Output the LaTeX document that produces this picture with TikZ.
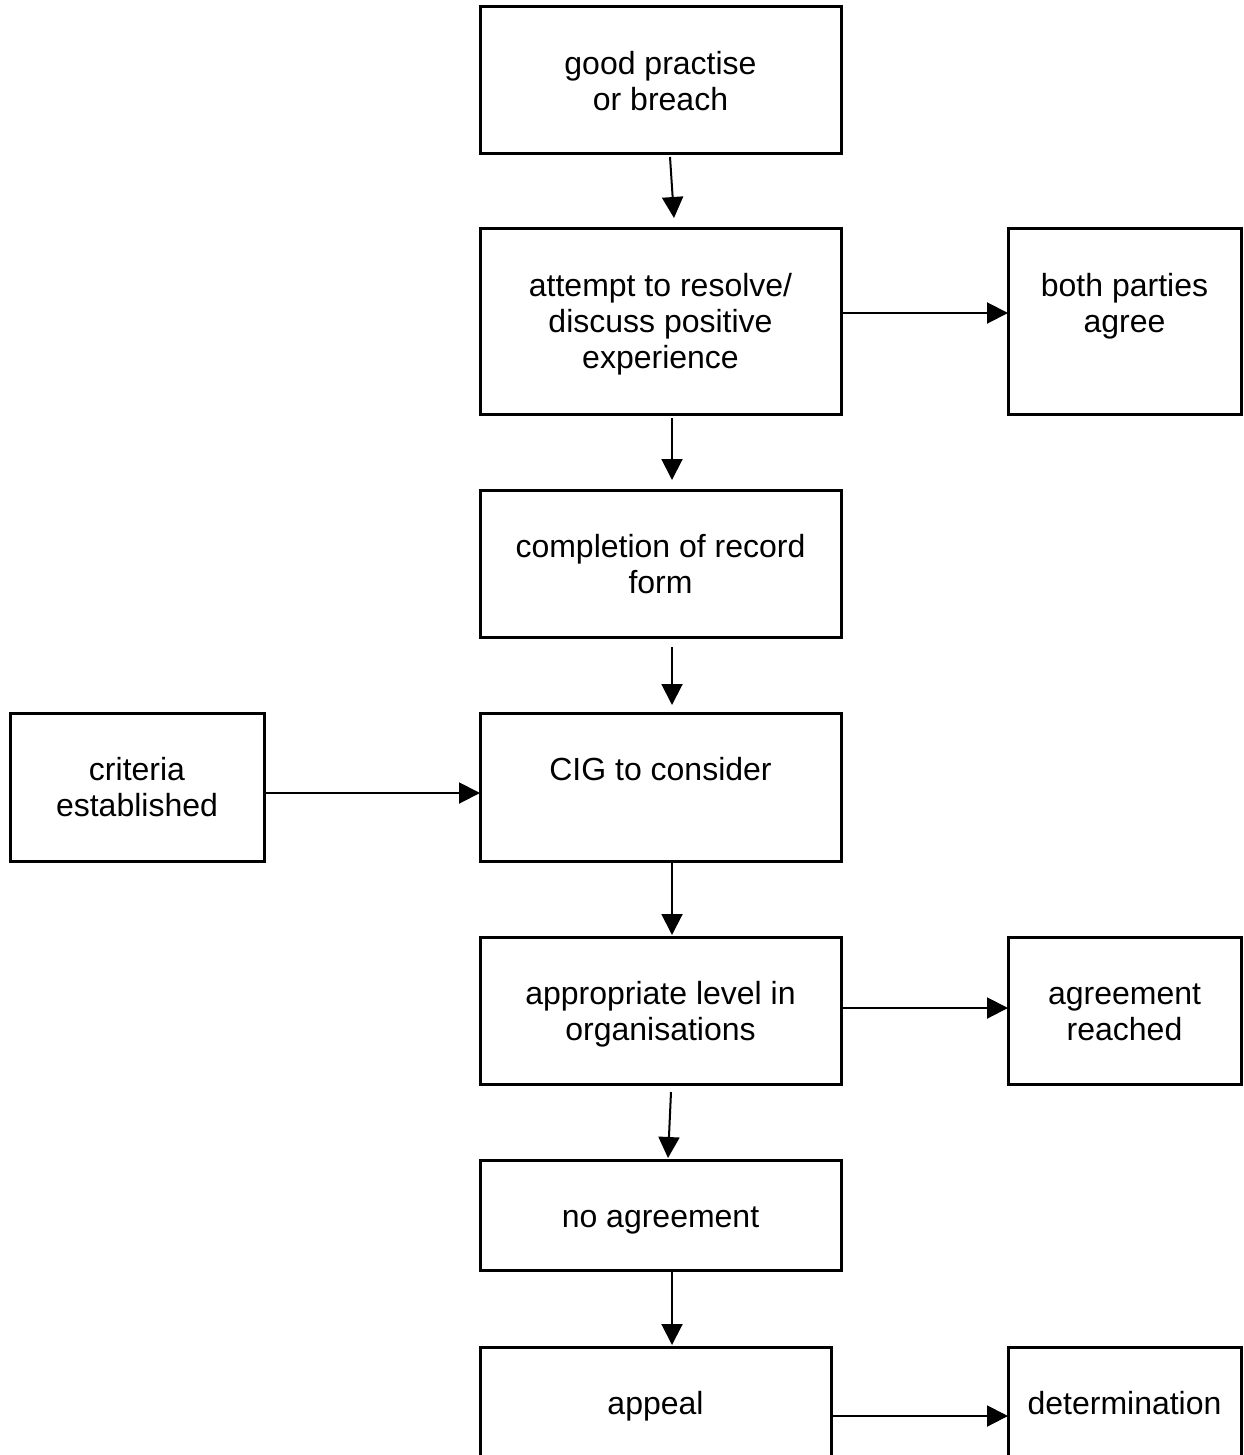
\documentclass[tikz,border=0pt]{standalone}
\usepackage{fontspec}
\setmainfont{Liberation Sans}
\usetikzlibrary{arrows.meta,calc}
\tikzset{
  box/.style  = {draw, line width=1.5pt, inner sep=0pt, outer sep=0pt, anchor=north west,
                 font=\fontsize{16pt}{18pt}\selectfont},
  flow/.style = {-{Triangle[length=10.5pt,width=10.5pt]}, line width=1pt},
}
% text sits at the top of each box
\newcommand{\boxtext}[3]{\parbox[c][\dimexpr#2pt/2\relax][t]{\dimexpr#1pt/2\relax}{\centering\vspace*{21.2pt}\strut#3}}

\begin{document}
\begin{tikzpicture}[x=0.5pt,y=-0.5pt]
  \useasboundingbox (0,0) rectangle (1243,1455);
  \foreach \name/\x/\y/\w/\h/\txt in {
      good/480/7/361/147/{good practise\\or breach},
      attempt/480/229/361/185/{attempt to resolve/\\discuss positive\\experience},
      both/1008/229/233/185/{both parties\\agree},
      record/480/490/361/147/{completion of record\\form},
      criteria/10/713/254/148/{criteria\\established},
      cig/480/713/361/148/{CIG to consider},
      level/480/937/361/147/{appropriate level in\\organisations},
      agreed/1008/937/233/147/{agreement\\reached},
      noagree/480/1160/361/110/{no agreement},
      appeal/480/1347/351/140/{appeal},
      determ/1008/1347/233/140/{determination}}{
    \node[box] (\name) at (\x,\y) {\boxtext{\w}{\h}{\txt}};}
  % main column
  \draw[flow] ($(good.south)+(9.5,3)$) -- ($(attempt.north)+(13.5,-11)$);
  \draw[flow] ($(attempt.south)+(11.5,4)$) -- ($(record.north)+(11.5,-10)$);
  \draw[flow] ($(record.south)+(11.5,10)$) -- ($(cig.north)+(11.5,-8)$);
  \draw[flow] ($(cig.south)+(11.5,2)$) -- ($(level.north)+(11.5,-2)$);
  \draw[flow] ($(level.south)+(10.5,8)$) -- ($(noagree.north)+(7.5,-2)$);
  \draw[flow] ($(noagree.south)+(11.5,2)$) -- ($(appeal.north)+(16.5,-2)$);
  % side branches
  \draw[flow] ($(attempt.east)+(0,-8.5)$) -- ($(both.west)+(0,-8.5)$);
  \draw[flow] ($(criteria.east)+(0,6)$) -- ($(cig.west)+(0,6)$);
  \draw[flow] ($(level.east)+(0,-2.5)$) -- ($(agreed.west)+(0,-2.5)$);
  \draw[flow] ($(appeal.east)+(-1,-1)$) -- ($(determ.west)+(0,-1)$);
\end{tikzpicture}
\end{document}
